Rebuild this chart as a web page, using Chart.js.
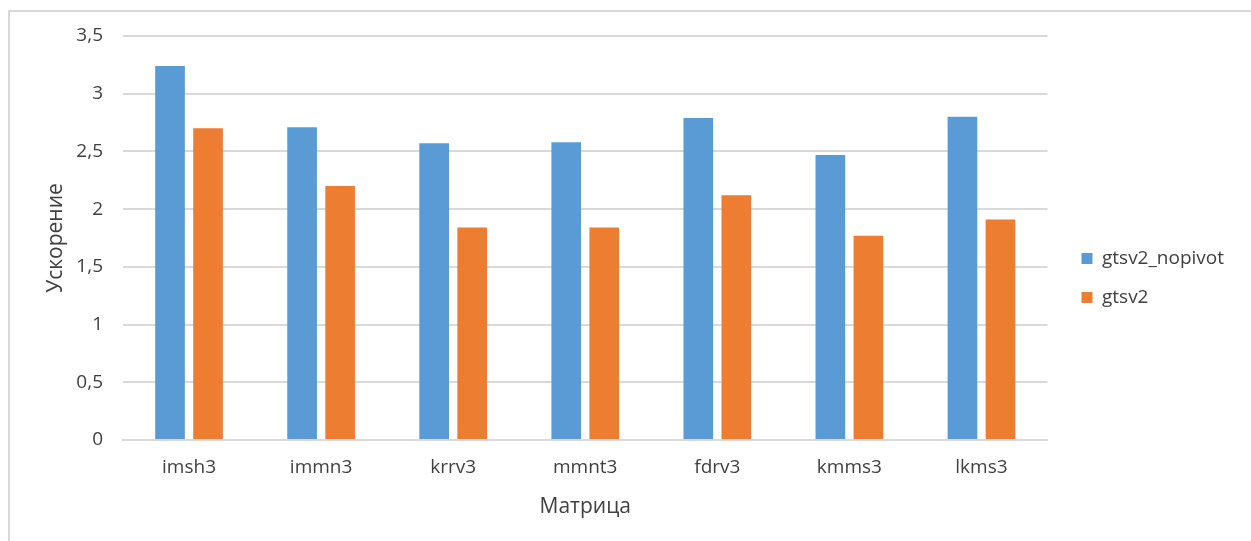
<!DOCTYPE html>
<html lang="ru">
<head>
  <meta charset="UTF-8" />
  <title>Ускорение</title>
  <script src="https://cdn.jsdelivr.net/npm/chart.js"></script>
  <style>
    html, body {
      margin: 0;
      padding: 0;
      background: #ffffff;
      overflow: hidden;
    }
    .frame {
      position: absolute;
      left: 8px;
      top: 10px;
      width: 1400px;
      height: 700px;
      border-top: 2px solid #d9d9d9;
      border-left: 2px solid #d9d9d9;
    }
    .wrap {
      position: absolute;
      left: 0;
      top: 0;
      width: 1251px;
      height: 541px;
    }
  </style>
</head>
<body>
<div class="frame"></div>
<div class="wrap"><canvas id="chart"></canvas></div>
<script>
  // Data
  const matrices = ["imsh3", "immn3", "krrv3", "mmnt3", "fdrv3", "kmms3", "lkms3"];
  const nopivot = [3.24, 2.71, 2.57, 2.58, 2.79, 2.47, 2.80];
  const gtsv2 = [2.70, 2.20, 1.84, 1.84, 2.12, 1.77, 1.91];
  const yTicks = [0, 0.5, 1, 1.5, 2, 2.5, 3, 3.5];

  const textColor = "#404040";
  const gridColor = "#d9d9d9";
  const font = "'Open Sans', Lato, sans-serif";

  new Chart(document.getElementById('chart'), {
    type: 'bar',
    data: {
      labels: matrices,
      datasets: [
        { label: "gtsv2_nopivot", data: nopivot, backgroundColor: "#5b9bd5" },
        { label: "gtsv2", data: gtsv2, backgroundColor: "#ed7d31" }
      ]
    },
    options: {
      responsive: true,
      maintainAspectRatio: false,
      animation: false,
      categoryPercentage: 0.576,
      barPercentage: 0.78,
      layout: { padding: { left: 43, top: 36, right: 17, bottom: 21 } },
      plugins: {
        tooltip: { enabled: false },
        legend: {
          position: 'right',
          labels: {
            boxWidth: 11,
            boxHeight: 11,
            padding: 20,
            color: textColor,
            font: { family: font, size: 19 }
          }
        }
      },
      scales: {
        x: {
          grid: { display: false, drawTicks: false },
          border: { color: gridColor, width: 2 },
          ticks: { color: textColor, padding: 16, font: { family: font, size: 19 } },
          title: {
            display: true, text: "Матрица", color: textColor,
            padding: { top: 0, bottom: 0 },
            font: { family: font, size: 21 }
          }
        },
        y: {
          min: 0,
          max: 3.5,
          afterBuildTicks: s => { s.ticks = yTicks.map(v => ({ value: v })); },
          afterFit: s => { s.width = 80; },
          grid: { color: gridColor, lineWidth: 2, drawTicks: false },
          border: { display: false },
          ticks: {
            color: textColor,
            padding: 20,
            font: { family: font, size: 19 },
            callback: v => String(v).replace('.', ',')
          },
          title: {
            display: true, text: "Ускорение", color: textColor,
            padding: { top: 0, bottom: 0 },
            font: { family: font, size: 21 }
          }
        },
        gap: {
          position: 'right',
          display: true,
          grid: { display: false },
          border: { display: false },
          ticks: { display: false },
          afterFit: s => { s.width = 14; }
        }
      }
    }
  });
</script>
</body>
</html>
